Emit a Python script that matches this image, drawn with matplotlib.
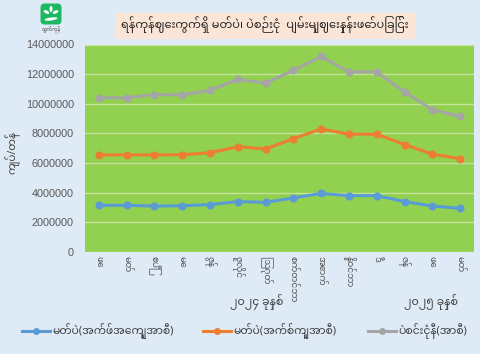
import matplotlib
matplotlib.use('Agg')
import matplotlib.pyplot as plt
from matplotlib.patches import FancyBboxPatch, Rectangle, Ellipse

categories = ['ဖေ', 'မတ်', 'ဧပြီ', 'မေ', 'ဇွန်', 'ဇူလိုင်', 'ဩဂုတ်', 'စက်တင်ဘာ', 'အောက်', 'နိုဝင်ဘာ', 'ဒီ', 'ဇန်', 'ဖေ', 'မတ်']
blue_vals = [3150000, 3150000, 3100000, 3120000, 3200000, 3400000, 3350000, 3650000, 3950000, 3800000, 3800000, 3400000, 3100000, 2950000]
orange_vals = [6550000, 6550000, 6550000, 6560000, 6700000, 7100000, 6950000, 7650000, 8300000, 7950000, 7950000, 7250000, 6600000, 6300000]
gray_vals = [10400000, 10400000, 10620000, 10600000, 10900000, 11650000, 11400000, 12250000, 13200000, 12150000, 12150000, 10800000, 9600000, 9150000]
y_ticks = [0, 2000000, 4000000, 6000000, 8000000, 10000000, 12000000, 14000000]

title = 'ရန်ကုန်ဈေးကွက်ရှိ မတ်ပဲ၊ ပဲစဉ်းငုံ  ပျမ်းမျှဈေးနှုန်းဖော်ပြခြင်း'
y_label = 'ကျပ်/တန်'
year1 = '၂၀၂၄ ခုနှစ်'
year2 = '၂၀၂၅ ခုနှစ်'
logo_text = 'ထွက်ကုန်'
names = ['မတ်ပဲ(အက်ဖ်အေကျူအာစီ)', 'မတ်ပဲ(အက်စ်ကျူအာစီ)', 'ပဲစင်းငုံနီ(အာစီ)']
colors = ['#5B9BD5', '#ED7D31', '#A5A5A5']

plt.rcParams['font.family'] = ['Noto Sans Myanmar', 'Padauk', 'DejaVu Sans']

W, H = 480, 354
fig = plt.figure(figsize=(W / 100, H / 100), dpi=100, facecolor='#DEEAF6')
ax = fig.add_axes([85 / W, 1 - 252 / H, 389 / W, 207.5 / H], facecolor='#92D050')

x = list(range(len(categories)))
for vals, c, n in zip([blue_vals, orange_vals, gray_vals], colors, names):
    ax.plot(x, vals, color=c, lw=2.2, marker='o', ms=4.8, label=n, zorder=3)

ax.set_xlim(-0.5, len(categories) - 0.5)
ax.set_ylim(0, 14000000)
ax.set_yticks(y_ticks)
ax.set_yticklabels([str(v) for v in y_ticks], fontsize=7.8, color='#595959', family='Liberation Sans')
ax.set_xticks(x)
ax.set_xticklabels(categories, rotation=-90, fontsize=6.5, color='#595959')
ax.tick_params(length=0)
ax.tick_params(axis='y', pad=8)
ax.tick_params(axis='x', pad=3)
ax.grid(axis='y', color='#C4E39A', lw=1)
ax.set_axisbelow(True)
for s in ax.spines.values():
    s.set_visible(False)

fig.text(13 / W, 1 - 152 / H, y_label, rotation=90, fontsize=7.5, color='#404040', ha='center', va='center')
fig.text(257 / W, 1 - 302 / H, year1, fontsize=8, color='#404040', ha='center', va='center')
fig.text(431 / W, 1 - 302 / H, year2, fontsize=8, color='#404040', ha='center', va='center')

fig.add_artist(Rectangle((115 / W, 1 - 39 / H), 300 / W, 26 / H, transform=fig.transFigure, facecolor='#FBE5D6', edgecolor='none'))
fig.text(265 / W, 1 - 25 / H, title, fontsize=8.2, color='#262626', ha='center', va='center')

# logo
logo = fig.add_axes([40 / W, 1 - 25 / H, 22 / W, 22 / H])
logo.set_xlim(0, 22)
logo.set_ylim(22, 0)
logo.axis('off')
logo.add_patch(FancyBboxPatch((0.5, 0.5), 21, 21, boxstyle='round,pad=0,rounding_size=4', facecolor='#1DB863', edgecolor='none'))
logo.add_patch(Ellipse((11, 6), 3, 6, facecolor='white', edgecolor='none'))
logo.add_patch(Ellipse((6.5, 9), 6, 3, angle=25, facecolor='white', edgecolor='none'))
logo.add_patch(Ellipse((15.5, 9), 6, 3, angle=-25, facecolor='white', edgecolor='none'))
logo.add_patch(Ellipse((11, 16), 13, 3, angle=-8, facecolor='white', edgecolor='none'))
fig.text(51 / W, 1 - 29 / H, logo_text, fontsize=3.5, color='#555555', ha='center', va='center')

# legend
for i, n in enumerate(names):
    lx0 = [22, 203, 368][i]
    yy = 1 - 331 / H
    fig.add_artist(plt.Line2D([lx0 / W, (lx0 + 28) / W], [yy, yy], color=colors[i], lw=2.2))
    fig.add_artist(plt.Line2D([(lx0 + 14) / W], [yy], color=colors[i], marker='o', ms=4))
    fig.text((lx0 + 30) / W, yy, n, fontsize=7.8, color='#404040', ha='left', va='center')

fig.savefig('out.png', dpi=100)
